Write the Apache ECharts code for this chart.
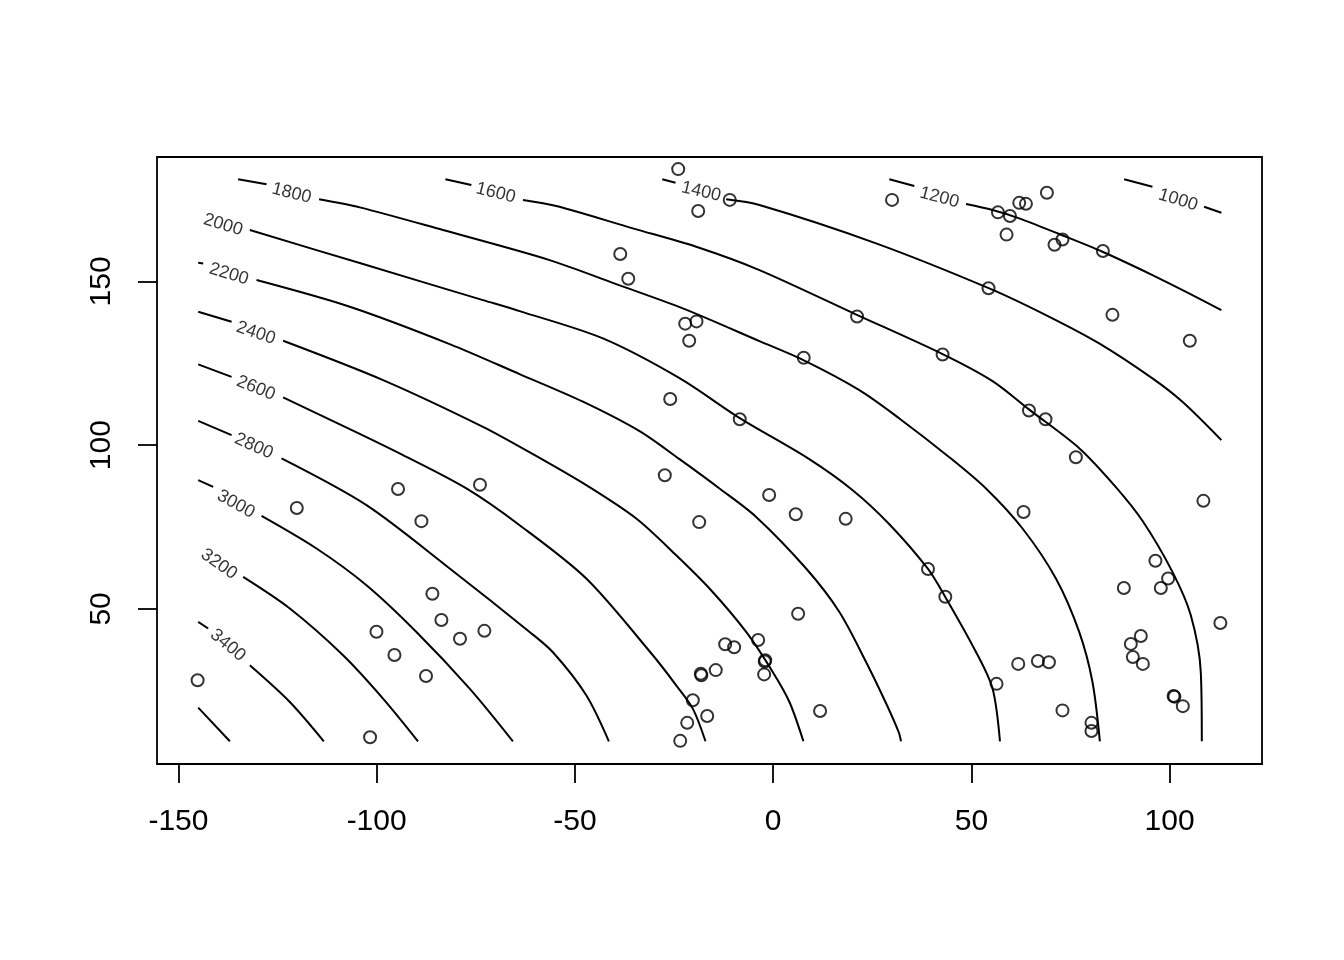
<!DOCTYPE html>
<html>
<head>
<meta charset="utf-8">
<script src="https://cdn.jsdelivr.net/npm/echarts@6/dist/echarts.min.js"></script>
<style>
html,body{margin:0;padding:0;background:#fff;}
#chart{width:1344px;height:960px;}
</style>
</head>
<body>
<div id="chart"></div>
<script>
// ---- data ----
const xTicks = [-150, -100, -50, 0, 50, 100];
const yTicks = [50, 100, 150];

const pointX = [-23.94,-10.94,-18.90,29.99,-38.56,-36.54,-22.18,-19.33,-21.17,21.17,7.71,-25.96,-8.42,
  69.05,62.07,63.76,56.70,59.73,58.87,72.98,70.97,83.17,54.33,85.58,105.09,42.74,64.52,68.70,76.36,
  -73.94,-94.61,-120.14,-88.71,-85.94,-83.67,-72.83,-78.98,-100.05,-95.51,-87.55,-145.16,-101.66,
  -27.32,-1.01,5.70,18.30,-18.65,6.30,-3.78,-12.10,-9.83,-2.12,-2.0,-2.27,-14.47,-18.25,-18.1,-20.26,-16.63,-21.67,-23.44,11.84,
  108.52,63.16,39.06,43.42,96.42,99.62,97.78,88.46,112.80,92.74,90.22,90.73,93.25,61.82,66.78,69.56,56.35,72.98,101.21,101.0,103.33,80.29,80.29];
const pointY = [184.3,174.9,171.5,174.9,158.4,150.8,137.1,137.8,131.9,139.3,126.7,114.1,107.9,
  177.1,174.0,173.7,171.1,170.0,164.3,162.8,161.2,159.3,147.9,139.8,131.9,127.7,110.6,107.9,96.3,
  87.9,86.6,80.8,76.8,54.6,46.6,43.3,40.9,43.0,35.9,29.5,28.2,10.8,
  90.8,84.8,78.9,77.5,76.5,48.5,40.5,39.2,38.3,33.9,34.3,30.0,31.3,30.2,29.7,22.1,17.3,15.2,9.7,18.8,
  83.0,79.6,62.2,53.7,64.7,59.3,56.4,56.4,45.7,41.7,39.3,35.3,33.2,33.2,34.1,33.7,27.1,19.0,23.2,23.4,20.3,15.2,12.7];

// contour segments (gaps are where the level labels sit)
const c1000 = [[[88.53,181.18],[95.67,178.92]], [[108.70,172.81],[113.05,170.97]]];
const c1200 = [[[29.31,181.18],[35.61,179.13]],
  [[48.64,173.63],[55.34,171.80],[62.07,169.26],[72.15,164.47],[83.06,159.06],[95.67,151.94],[105.75,145.83],[113.05,141.25]]];
const c1400 = [[[-27.97,181.18],[-24.62,180.14]],
  [[-11.84,175.07],[-3.45,173.33],[25.96,161.63],[54.51,147.88],[68.80,139.72],[82.23,131.07],[95.67,120.38],[103.23,113.23],[113.05,101.53]]];
const c1600 = [[[-82.66,181.18],[-76.11,179.44]],
  [[-63.10,174.86],[-54.69,173.02],[-35.38,166.21],[-19.41,160.59],[-3.45,153.47],[20.99,139.87],[42.74,127.80],[55.34,119.55],[64.59,110.85],[77.19,99.08],[86.44,87.2],[93.15,76.9],[100.71,61.29],[105.34,48.06],[107.86,30.74],[108.12,9.56]]];
const c1800 = [[[-134.93,181.18],[-127.77,179.65]],
  [[-114.52,175.07],[-104.26,172.62],[-83.27,165.69],[-56.38,156.52],[-39.57,149.19],[-22.78,141.77],[-3.45,131.78],[7.89,125.82],[21.75,116.80],[31.83,108.16],[44.43,96.33],[53.68,86.77],[62.90,74.55],[71.32,59.27],[77.19,42.96],[80.54,27.68],[82.41,9.56]]];
const c2000 = [[[-131.98,165.69],[-103.43,155.30],[-73.19,144.30],[-63.94,140.94],[-42.94,132.60],[-23.61,120.47],[-8.42,108.25],[8.72,96.03],[20.06,86.25],[29.31,75.86],[39.06,62.20],[43.42,53.65],[51.16,36.85],[55.34,25.66],[57.21,9.56]]];
const c2200 = [[[-145.01,155.70],[-143.75,155.51]],
  [[-130.29,150.41],[-106.78,142.26],[-81.58,130.86],[-63.94,121.69],[-47.98,113.29],[-33.69,104.28],[-23.61,95.72],[-13.53,86.77],[-4.28,78.09],[8.32,62.33],[16.71,49.07],[23.44,33.79],[28.48,21.17],[31.65,12.40],[32.26,9.56]]];
const c2400 = [[[-145.01,140.73],[-136.59,137.67]],
  [[-123.59,131.87],[-98.39,119.86],[-73.19,105.59],[-60.58,97.25],[-47.13,87.78],[-34.53,77.60],[-24.45,66.39],[-16.05,56.22],[-6.80,42.96],[-0.10,30.74],[4.11,21.57],[7.64,9.56]]];
const c2600 = [[[-145.01,124.66],[-136.59,120.87]],
  [[-123.59,114.57],[-106.78,104.89],[-93.35,96.94],[-77.37,86.77],[-63.94,75.56],[-47.13,59.27],[-30.34,35.84],[-24.45,26.67],[-20.26,19.55],[-17.06,9.56]]];
const c2800 = [[[-145.01,107.42],[-136.59,103.05]],
  [[-123.99,95.94],[-102.57,81.67],[-81.58,62.33],[-61.42,42.96],[-55.54,36.75],[-47.13,23.62],[-41.43,9.56]]];
const c3000 = [[[-145.01,89.31],[-141.23,87.26]],
  [[-129.03,78.40],[-115.17,68.44],[-102.57,57.23],[-89.97,42.96],[-76.54,25.66],[-65.63,9.56]]];
const c3200 = [[[-133.67,59.76],[-121.90,50.11],[-108.47,35.84],[-98.39,22.61],[-89.57,9.56]]];
const c3400 = [[[-145.01,46.01],[-142.49,44.00]],
  [[-131.98,32.78],[-121.90,21.57],[-113.33,9.56]]];
const c3600 = [[[-145.01,19.86],[-137.02,9.56]]];

const contourLabels = ['1000','1200','1400','1600','1800','2000','2200','2400','2600','2800','3000','3200','3400'];
const labelX = [102.14, 41.91, -18.15, -69.99, -121.47, -138.75, -137.27, -130.47, -130.47, -130.98, -135.51, -139.77, -137.53];
const labelY = [174.86, 175.62, 177.39, 177.0, 176.90, 167.26, 152.25, 134.22, 117.42, 99.69, 81.97, 63.64, 38.89];
const labelAngle = [-17, -15, -13, -14, -14, -17, -17, -19, -22, -24, -29, -35, -40];

// ---- chart ----
const FONT = 'Liberation Sans, Arial, sans-serif';
const contours = [c1000,c1200,c1400,c1600,c1800,c2000,c2200,c2400,c2600,c2800,c3000,c3200,c3400,c3600];
const series = [];
contours.forEach(function (c) {
  c.forEach(function (seg) {
    series.push({
      type: 'line', data: seg, showSymbol: false, smooth: 0.3, silent: true,
      lineStyle: { color: '#000', width: 2 }, z: 2
    });
  });
});
series.push({
  type: 'scatter', symbolSize: 0, silent: true, z: 3,
  data: contourLabels.map(function (t, i) {
    return { name: t, value: [labelX[i], labelY[i]], label: { rotate: labelAngle[i] } };
  }),
  label: { show: true, position: 'inside', formatter: '{b}', color: '#000', fontSize: 18, fontFamily: FONT }
});
series.push({
  type: 'scatter', symbol: 'circle', symbolSize: 12, silent: true, z: 4,
  data: pointX.map(function (x, i) { return [x, pointY[i]]; }),
  itemStyle: { color: 'rgba(0,0,0,0)', borderColor: '#000', borderWidth: 2 }
});

const chart = echarts.init(document.getElementById('chart'), null, { renderer: 'canvas' });
chart.setOption({
  animation: false,
  backgroundColor: '#fff',
  grid: { left: 157, right: 82, top: 157, bottom: 196, show: true, borderColor: '#000', borderWidth: 1.8, backgroundColor: 'rgba(0,0,0,0)' },
  xAxis: {
    type: 'value', min: -155.4, max: 123.3,
    splitLine: { show: false },
    axisLine: { show: false, onZero: false },
    axisTick: { show: true, length: 19, customValues: xTicks, lineStyle: { color: '#000', width: 1.8 } },
    axisLabel: { customValues: xTicks, margin: 43, fontSize: 30, color: '#000', fontFamily: FONT }
  },
  yAxis: {
    type: 'value', min: 2.63, max: 188.0,
    splitLine: { show: false },
    axisLine: { show: false, onZero: false },
    axisTick: { show: true, length: 19, customValues: yTicks, lineStyle: { color: '#000', width: 1.8 } },
    axisLabel: { customValues: yTicks, margin: 40, rotate: 90, fontSize: 30, color: '#000', fontFamily: FONT }
  },
  series: series
});
</script>
</body>
</html>
